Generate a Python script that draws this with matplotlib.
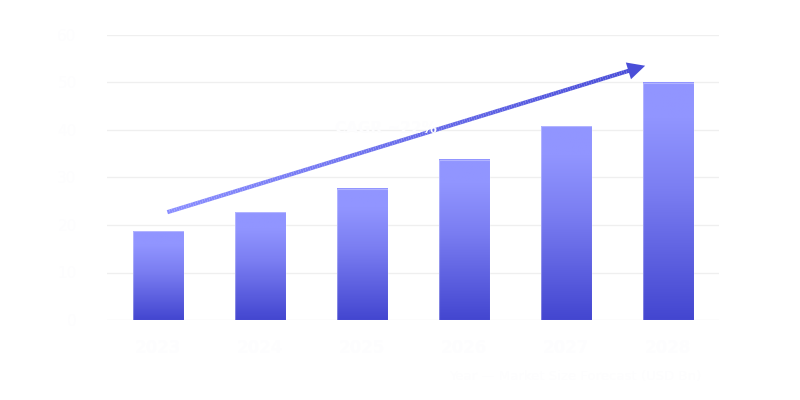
import numpy as np
import matplotlib
matplotlib.use("Agg")
import matplotlib.pyplot as plt
from matplotlib.collections import LineCollection
from matplotlib.colors import LinearSegmentedColormap
from matplotlib.patches import Rectangle, FancyArrowPatch

# ---- data ----
years = ["2023", "2024", "2025", "2026", "2027", "2028"]
values = [18.7, 22.7, 27.6, 33.7, 40.8, 49.9]
y_ticks = [0, 10, 20, 30, 40, 50, 60]
y_tick_labels = ["0", "10", "20", "30", "40", "50", "60"]
x_title = "Year — Market Size Forecast (USD Bn)"
trend_label = "CAGR ~22%"

text_color = "#fdfdfe"
light = "#9195ff"
dark = "#4346d0"

fig = plt.figure(figsize=(8, 4), dpi=100)
fig.patch.set_facecolor("white")
ax = fig.add_axes([0.134, 0.2, 0.765, 0.7125])
ax.set_facecolor("white")

x = np.arange(len(years))

for s in ax.spines.values():
    s.set_visible(False)
ax.set_yticks(y_ticks)
ax.set_yticklabels(y_tick_labels, color=text_color, fontsize=11)
ax.set_xticks(x)
ax.set_xticklabels(years, color=text_color, fontsize=12, fontweight="bold")
ax.tick_params(length=0, pad=14)
ax.tick_params(axis="y", pad=22)
ax.grid(axis="y", color="#efefef", linewidth=0.9)
ax.set_axisbelow(True)

# gradient bars
cmap_bar = LinearSegmentedColormap.from_list(
    "bar", [(0.0, dark), (0.55, "#7b7ef2"), (0.85, light), (1.0, light)])
grad = np.linspace(0, 1, 256).reshape(-1, 1)
bw = 0.5
bars = ax.bar(x, values, width=bw, color="none", edgecolor="none")
for b in bars:
    x0, w, h = b.get_x(), b.get_width(), b.get_height()
    ax.imshow(grad, cmap=cmap_bar, origin="lower", aspect="auto",
              extent=[x0, x0 + w, 0, h], zorder=2, interpolation="bilinear")
    ax.add_patch(Rectangle((x0, 0), w, h, fill=False,
                           edgecolor=(1, 1, 1, 0.3), linewidth=0.8, zorder=3))
ax.set_xlim(-0.5, len(years) - 0.5)
ax.set_ylim(0, 60)

# gradient trend arrow
xs, ys = 0.09, 22.7
xe, ye = 4.80, 53.7
n = 200
t = np.linspace(0, 1, n)
px = xs + (xe - xs) * t * 0.97
py = ys + (ye - ys) * t * 0.97
pts = np.array([px, py]).T.reshape(-1, 1, 2)
segs = np.concatenate([pts[:-1], pts[1:]], axis=1)
cmap_line = LinearSegmentedColormap.from_list("ln", ["#8a8eff", "#4a4ed8"])
lc = LineCollection(segs, cmap=cmap_line, linewidth=3, zorder=5, capstyle="butt")
lc.set_array(t[:-1])
ax.add_collection(lc)
ax.add_patch(FancyArrowPatch((px[-6], py[-6]), (xe, ye),
                             arrowstyle="-|>,head_length=0.9,head_width=0.45",
                             mutation_scale=14, color="#4a4ed8",
                             linewidth=0, zorder=6))

ax.text(2.23, 40.4, trend_label, color=text_color, fontsize=11,
        fontweight="bold", ha="center", va="center", zorder=7)

fig.text(0.877, 0.05, x_title, color=text_color, fontsize=9.5, ha="right")

fig.savefig("out.png", dpi=100, facecolor="white")
